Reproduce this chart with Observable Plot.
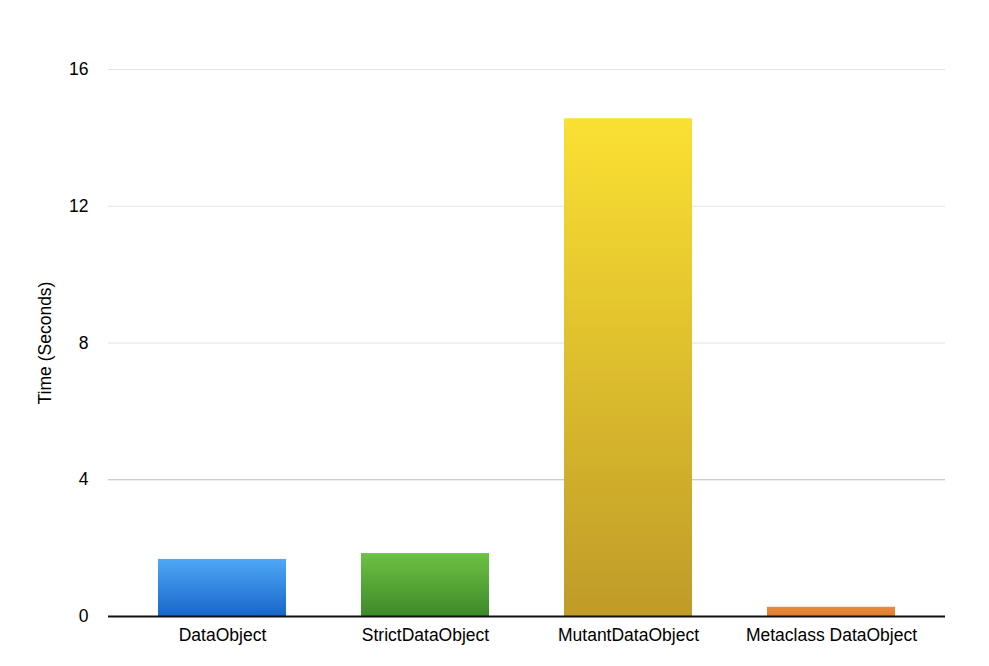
<!DOCTYPE html>
<html>
<head>
<meta charset="utf-8">
<script src="https://cdn.jsdelivr.net/npm/d3@7"></script>
<script src="https://cdn.jsdelivr.net/npm/@observablehq/plot@0.6"></script>
<style>
  html, body { margin: 0; padding: 0; background: #fff; }
  #chart svg { display: block; }
</style>
</head>
<body>
<div id="chart"></div>
<script>
const categories = ["DataObject", "StrictDataObject", "MutantDataObject", "Metaclass DataObject"];
const times = [1.67, 1.84, 14.56, 0.27];
const yTicks = [0, 4, 8, 12, 16];
const gradTop = ["#4fa8f7", "#6cc242", "#fbe033", "#ec8b3c"];
const gradBottom = ["#1766c9", "#3e892a", "#bf9b28", "#e07c30"];

const data = categories.map((c, i) => ({category: c, time: times[i], grad: `url(#grad${i})`}));

const font = "'Liberation Sans', Arial, Helvetica, sans-serif";

const plot = Plot.plot({
  width: 989,
  height: 666,
  marginLeft: 108,
  marginRight: 44,
  marginTop: 69,
  marginBottom: 50,
  style: {fontFamily: font, fontSize: "17.5px", color: "#000", background: "#fff"},
  x: {domain: categories, paddingInner: 0.37, paddingOuter: 0.24, label: null},
  y: {domain: [0, 16], label: null},
  color: {type: "identity"},
  marks: [
    Plot.ruleY(yTicks.filter(t => t !== 0 && t !== 4), {stroke: "#e3e3e3", strokeWidth: 1}),
    Plot.ruleY([4], {stroke: "#bdbdbd", strokeWidth: 1}),
    Plot.barY(data, {x: "category", y: "time", fill: "grad"}),
    Plot.ruleY([0], {stroke: "#111", strokeWidth: 2}),
    Plot.axisY({ticks: yTicks, tickSize: 0, tickPadding: 20, label: null, fontSize: 17.5}),
    Plot.axisX({tickSize: 0, tickPadding: 12, label: null, fontSize: 17.5}),
    Plot.text(["Time (Seconds)"], {frameAnchor: "left", textAnchor: "middle", rotate: -90, dx: -63, fontSize: 17.5, fill: "#000"})
  ]
});

const ns = "http://www.w3.org/2000/svg";
const defs = document.createElementNS(ns, "defs");
categories.forEach((c, i) => {
  const lg = document.createElementNS(ns, "linearGradient");
  lg.setAttribute("id", `grad${i}`);
  lg.setAttribute("x1", "0"); lg.setAttribute("y1", "0");
  lg.setAttribute("x2", "0"); lg.setAttribute("y2", "1");
  const s1 = document.createElementNS(ns, "stop");
  s1.setAttribute("offset", "0"); s1.setAttribute("stop-color", gradTop[i]);
  const s2 = document.createElementNS(ns, "stop");
  s2.setAttribute("offset", "1"); s2.setAttribute("stop-color", gradBottom[i]);
  lg.appendChild(s1); lg.appendChild(s2);
  defs.appendChild(lg);
});
plot.insertBefore(defs, plot.firstChild);

document.getElementById("chart").appendChild(plot);
</script>
</body>
</html>
